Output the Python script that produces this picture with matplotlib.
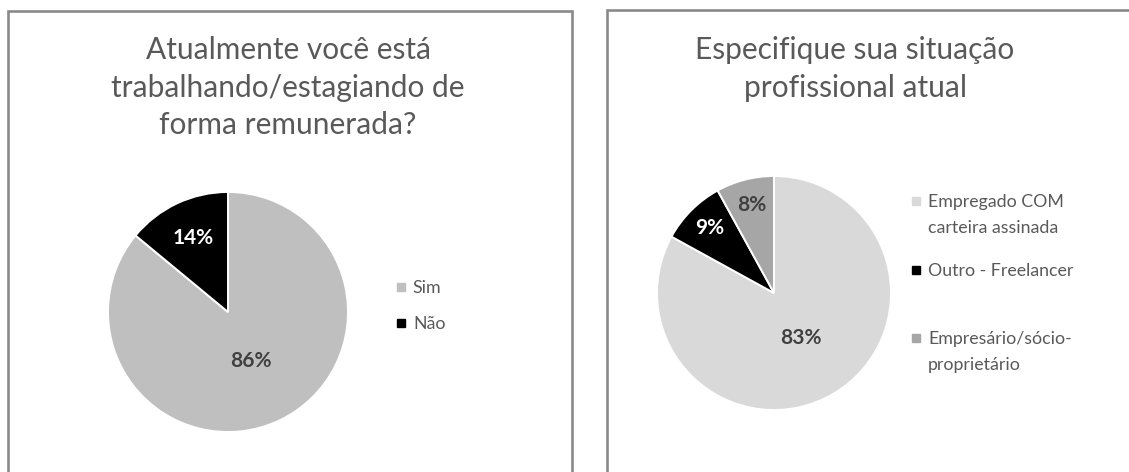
import numpy as np
import matplotlib.pyplot as plt
from matplotlib.patches import Rectangle
from matplotlib.lines import Line2D

plt.rcParams['font.family'] = ['Lato', 'DejaVu Sans']

# dados
titulo1 = "Atualmente você está\ntrabalhando/estagiando de\nforma remunerada?"
cat1 = ["Sim", "Não"]
val1 = [86, 14]
cor1 = ["#bfbfbf", "#000000"]
txt1 = ["#404040", "#ffffff"]

titulo2 = "Especifique sua situação\nprofissional atual"
cat2 = ["Empregado COM\ncarteira assinada", "Outro - Freelancer", "Empresário/sócio-\nproprietário"]
val2 = [83, 9, 8]
cor2 = ["#d9d9d9", "#000000", "#a6a6a6"]
txt2 = ["#404040", "#ffffff", "#404040"]

W, H = 1129, 472
fig = plt.figure(figsize=(W / 100, H / 100), dpi=100)
cinza = "#595959"


def px(x, y):
    # pixel (a partir do topo) -> fração da figura
    return x / W, 1 - y / H


def pizza(cx, cy, r, vals, cores, ctxt, cats, tit, tit_x, tit_y, leg_x, leg_y, lsp, border):
    # moldura
    bx0, bx1, by = border
    fig.patches.append(Rectangle((bx0 / W, -0.2), (bx1 - bx0) / W, 1.2 - by / H,
                                 transform=fig.transFigure, fill=False,
                                 edgecolor="#898989", lw=1.9))
    ax = fig.add_axes([(cx - r) / W, 1 - (cy + r) / H, 2 * r / W, 2 * r / H])
    wedges, _ = ax.pie(vals, colors=cores, startangle=90, counterclock=False,
                       wedgeprops=dict(edgecolor="white", linewidth=1.4))
    ax.set_xlim(-1, 1)
    ax.set_ylim(-1, 1)
    ax.set_aspect("equal")
    ax.axis("off")
    for w, v, c in zip(wedges, vals, ctxt):
        ang = np.deg2rad((w.theta1 + w.theta2) / 2)
        d = 0.45 if v > 50 else (0.68 if v >= 10 else 0.78)
        ax.text(d * np.cos(ang), d * np.sin(ang), f"{v}%", ha="center", va="center",
                color=c, fontsize=15, fontweight="bold")
    # título
    fig.text(*px(tit_x, tit_y), tit, ha="center", va="top",
             fontsize=21.5, color=cinza, linespacing=1.42)
    # legenda
    multi = any("\n" in c for c in cats)
    labs = [c if "\n" in c else c + "\n" for c in cats] if multi else cats
    hs = [Line2D([], [], marker="s", ls="none", color=c, markersize=5.5) for c in cores]
    leg = fig.legend(hs, labs, loc="upper left", bbox_to_anchor=px(leg_x, leg_y),
                     frameon=False, fontsize=12.8, handlelength=0.6, handleheight=1.0,
                     handletextpad=0.35, labelspacing=lsp, borderpad=0, borderaxespad=0,
                     labelcolor=cinza)
    for t in leg.get_texts():
        t.set_linespacing(1.76)
    for col in leg._legend_handle_box.get_children():
        for hp in col.get_children():
            hp.align = "top"
    return ax


pizza(228, 312, 120, val1, cor1, txt1, cat1, titulo1, 288, 36, 396, 280, 1.15, (8, 572, 11))
pizza(774, 293, 117, val2, cor2, txt2, cat2, titulo2, 855, 36, 911, 194, 1.5, (607, 1200, 10))

fig.savefig("out.png", dpi=100)
